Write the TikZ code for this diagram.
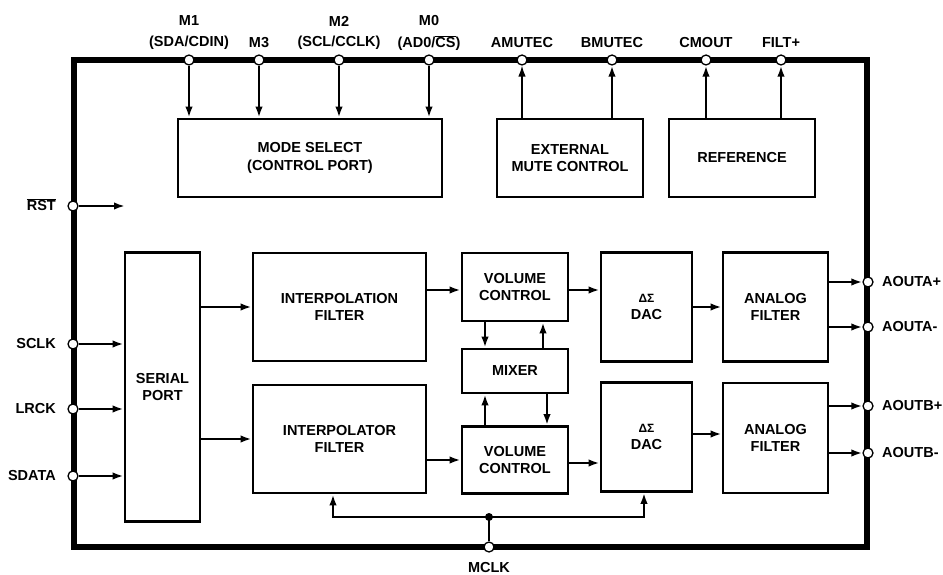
\documentclass[tikz,border=0pt]{standalone}
\usepackage{fontspec}
\setmainfont{Liberation Sans}
\usetikzlibrary{arrows.meta}
\newcommand{\lblfont}{\fontsize{14.5}{17.5}\selectfont\bfseries}
\begin{document}
\begin{tikzpicture}[x=1pt,y=-1pt,
  box/.style={draw, line width=2.8pt, inner sep=0pt, align=center, font=\lblfont},
  pin/.style={circle, draw, fill=white, line width=1.3pt, inner sep=0pt, minimum size=10pt},
  conn/.style={line width=2.3pt, -{Latex[length=11pt,width=7.5pt]}},
  tconn/.style={line width=1.3pt, -{Latex[length=11pt,width=7.5pt]}},
  wire/.style={line width=2.3pt},
  lab/.style={font=\lblfont, inner sep=0pt}
]
\useasboundingbox (0,0) rectangle (943,575);

% chip outline
\draw[line width=6pt] (74,60) rectangle (867,547);

% blocks
\node[box, minimum width=264pt, minimum height=78pt] (ms) at (310,158) {MODE SELECT\\(CONTROL PORT)};
\node[box, minimum width=146pt, minimum height=78pt] (emc) at (570,158) {EXTERNAL\\MUTE CONTROL};
\node[box, minimum width=146pt, minimum height=78pt] (ref) at (742,158) {REFERENCE};
\node[box, minimum width=75pt, minimum height=269pt] (sp) at (162.5,387) {SERIAL\\PORT};
\node[box, minimum width=173pt, minimum height=108pt] (if1) at (339.5,307) {INTERPOLATION\\FILTER};
\node[box, minimum width=173pt, minimum height=108pt] (if2) at (339.5,439) {INTERPOLATOR\\FILTER};
\node[box, minimum width=106pt, minimum height=68pt] (vc1) at (515,287) {VOLUME\\CONTROL};
\node[box, minimum width=106pt, minimum height=44pt] (mix) at (515,371) {MIXER};
\node[box, minimum width=106pt, minimum height=67pt] (vc2) at (515,460) {VOLUME\\CONTROL};
\node[box, minimum width=91pt, minimum height=109pt] (dac1) at (646.5,307) {{\fontsize{12}{14}\selectfont ΔΣ}\\DAC};
\node[box, minimum width=91pt, minimum height=109pt] (dac2) at (646.5,437) {{\fontsize{12}{14}\selectfont ΔΣ}\\DAC};
\node[box, minimum width=105pt, minimum height=109pt] (af1) at (775.5,307) {ANALOG\\FILTER};
\node[box, minimum width=105pt, minimum height=110pt] (af2) at (775.5,438) {ANALOG\\FILTER};

% pins
\node[pin] (pm1) at (189,60) {};
\node[pin] (pm3) at (259,60) {};
\node[pin] (pm2) at (339,60) {};
\node[pin] (pm0) at (429,60) {};
\node[pin] (pam) at (522,60) {};
\node[pin] (pbm) at (612,60) {};
\node[pin] (pcm) at (706,60) {};
\node[pin] (pfl) at (781,60) {};
\node[pin] (prst) at (73,206) {};
\node[pin] (psclk) at (73,344) {};
\node[pin] (plrck) at (73,409) {};
\node[pin] (psdata) at (73,476) {};
\node[pin] (pap) at (868,282) {};
\node[pin] (pan) at (868,327) {};
\node[pin] (pbp) at (868,406) {};
\node[pin] (pbn) at (868,453) {};
\node[pin] (pmclk) at (489,547) {};

% pin labels
\node[lab] (lm1a) at (189,21) {M1};
\node[lab] (lm1b) at (189,43) {(SDA/CDIN)};
\node[lab] (lm3) at (259,43) {M3};
\node[lab] (lm2a) at (339,21) {M2};
\node[lab] (lm2b) at (339,43) {(SCL/CCLK)};
\node[lab] (lm0a) at (429,21) {M0};
\node[lab] (lm0b) at (429,43) {(AD0/$\overline{\mbox{CS}}$)};
\node[lab] (lam) at (522,43) {AMUTEC};
\node[lab] (lbm) at (612,43) {BMUTEC};
\node[lab] (lcm) at (706,43) {CMOUT};
\node[lab] (lfl) at (781,43) {FILT+};
\node[lab, anchor=east] (lrst) at (56,205) {$\overline{\mbox{RST}}$};
\node[lab, anchor=east] (lsclk) at (56,344) {SCLK};
\node[lab, anchor=east] (llrck) at (56,409) {LRCK};
\node[lab, anchor=east] (lsdata) at (56,476) {SDATA};
\node[lab, anchor=west] (lap) at (882,282) {AOUTA+};
\node[lab, anchor=west] (lan) at (882,327) {AOUTA-};
\node[lab, anchor=west] (lbp) at (882,406) {AOUTB+};
\node[lab, anchor=west] (lbn) at (882,453) {AOUTB-};
\node[lab] (lmclk) at (489,568) {MCLK};

% top connectors
\draw[conn] (pm1) -- (pm1 |- ms.north);
\draw[conn] (pm3) -- (pm3 |- ms.north);
\draw[conn] (pm2) -- (pm2 |- ms.north);
\draw[conn] (pm0) -- (pm0 |- ms.north);
\draw[tconn] (pam |- emc.north) -- (pam);
\draw[conn] (pbm |- emc.north) -- (pbm);
\draw[conn] (pcm |- ref.north) -- (pcm);
\draw[conn] (pfl |- ref.north) -- (pfl);

% left connectors
\coordinate (rstend) at (125,206);
\draw[conn] (prst) -- (rstend);
\draw[conn] (psclk) -- (psclk -| sp.west);
\draw[conn] (plrck) -- (plrck -| sp.west);
\draw[conn] (psdata) -- (psdata -| sp.west);

% data path
\draw[conn] (sp.east |- if1.west) -- (if1.west);
\draw[conn] (sp.east |- if2.west) -- (if2.west);
\draw[conn] ([yshift=-3pt]if1.east |- vc1.west) -- ([yshift=-3pt]vc1.west);
\draw[conn] (if2.east |- vc2.west) -- (vc2.west);
\draw[conn] ([yshift=-3pt]vc1.east) -- ([yshift=-3pt]vc1.east -| dac1.west);
\draw[conn] ([yshift=-3pt]vc2.east) -- ([yshift=-3pt]vc2.east -| dac2.west);
\draw[conn] (dac1.east) -- (af1.west);
\draw[conn] ([yshift=3pt]dac2.east) -- ([yshift=3pt]dac2.east -| af2.west);

% mixer links
\draw[conn] ([xshift=-30pt]vc1.south) -- ([xshift=-30pt]mix.north);
\draw[conn] ([xshift=28pt]mix.north) -- ([xshift=28pt]vc1.south);
\draw[conn] ([xshift=-30pt]vc2.north) -- ([xshift=-30pt]mix.south);
\draw[conn] ([xshift=32pt]mix.south) -- ([xshift=32pt]vc2.north);

% outputs
\draw[conn] (af1.east |- pap) -- (pap);
\draw[conn] (af1.east |- pan) -- (pan);
\draw[conn] (af2.east |- pbp) -- (pbp);
\draw[conn] (af2.east |- pbn) -- (pbn);

% MCLK distribution
\coordinate (j) at (489,517);
\coordinate (jl) at (333,517);
\coordinate (jr) at (644,517);
\draw[wire] (pmclk) -- (j);
\draw[conn] (j) -- (jl) -- (jl |- if2.south);
\draw[conn] (j) -- (jr) -- (jr |- dac2.south);
\fill (j) circle (4pt);
\end{tikzpicture}
\end{document}
